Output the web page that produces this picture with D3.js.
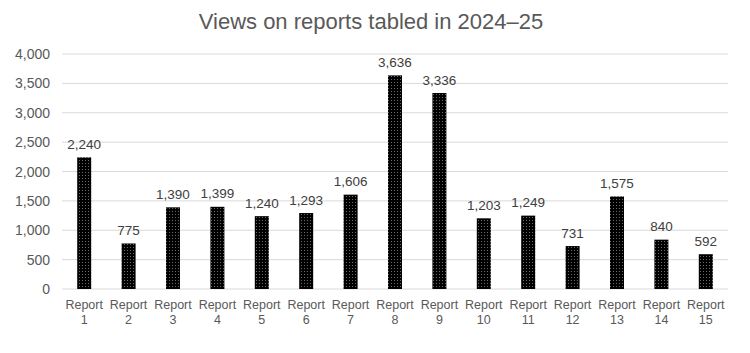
<html>
<head>
<style>
  body { margin: 0; background: #fff; }
  text { font-family: "Liberation Sans", Arial, sans-serif; }
</style>
</head>
<body>
<svg id="chart" width="750" height="353"></svg>
<script src="https://d3js.org/d3.v7.min.js"></script>
<script>
const reports = ["Report 1","Report 2","Report 3","Report 4","Report 5","Report 6","Report 7","Report 8",
                 "Report 9","Report 10","Report 11","Report 12","Report 13","Report 14","Report 15"]
const views = [2240, 775, 1390, 1399, 1240, 1293, 1606, 3636, 3336, 1203, 1249, 731, 1575, 840, 592]
const yTicks = [0, 500, 1000, 1500, 2000, 2500, 3000, 3500, 4000]

let svg = d3.select("#chart")
let plotLeft = 62, plotRight = 728, plotTop = 54, plotBottom = 289

// dotted black fill for bars
let defs = svg.append("defs")
let pat = defs.append("pattern")
    .attr("id", "dots")
    .attr("width", 3).attr("height", 3)
    .attr("patternUnits", "userSpaceOnUse")
pat.append("rect").attr("width", 3).attr("height", 3).attr("fill", "#000")
pat.append("rect").attr("x", 1).attr("y", 1).attr("width", 1).attr("height", 1).attr("fill", "#6a6a6a")

let x = d3.scaleBand().domain(reports).range([plotLeft, plotRight])
let y = d3.scaleLinear().domain([0, 4000]).range([plotBottom, plotTop])

svg.append("text")
    .attr("x", 371).attr("y", 29)
    .attr("text-anchor", "middle")
    .attr("font-size", 22)
    .attr("fill", "#595959")
    .text("Views on reports tabled in 2024\u201325")

// gridlines
svg.append("g").selectAll("line")
    .data(yTicks)
    .join("line")
    .attr("x1", plotLeft).attr("x2", plotRight)
    .attr("y1", d => y(d)).attr("y2", d => y(d))
    .attr("stroke", "#d9d9d9").attr("stroke-width", 1)

// y axis labels
svg.append("g").selectAll("text")
    .data(yTicks)
    .join("text")
    .attr("x", 50).attr("y", d => y(d) + 5)
    .attr("text-anchor", "end")
    .attr("font-size", 14)
    .attr("fill", "#595959")
    .text(d => d3.format(",")(d))

let bw = 14
svg.append("g").selectAll("rect")
    .data(views)
    .join("rect")
    .attr("x", (d, i) => x(reports[i]) + x.bandwidth() / 2 - bw / 2)
    .attr("y", d => y(d))
    .attr("width", bw)
    .attr("height", d => plotBottom - y(d))
    .attr("fill", "url(#dots)")

// value labels
svg.append("g").selectAll("text")
    .data(views)
    .join("text")
    .attr("x", (d, i) => x(reports[i]) + x.bandwidth() / 2)
    .attr("y", d => y(d) - 8.5)
    .attr("text-anchor", "middle")
    .attr("font-size", 13.5)
    .attr("fill", "#404040")
    .text(d => d3.format(",")(d))

// category labels on two lines
let cat = svg.append("g").selectAll("text")
    .data(reports)
    .join("text")
    .attr("text-anchor", "middle")
    .attr("font-size", 12.5)
    .attr("fill", "#595959")
cat.each(function(d) {
    let parts = d.split(" ")
    let cx = x(d) + x.bandwidth() / 2
    d3.select(this).append("tspan").attr("x", cx).attr("y", 309).text(parts[0])
    d3.select(this).append("tspan").attr("x", cx).attr("y", 324).text(parts[1])
})
</script>
</body>
</html>
